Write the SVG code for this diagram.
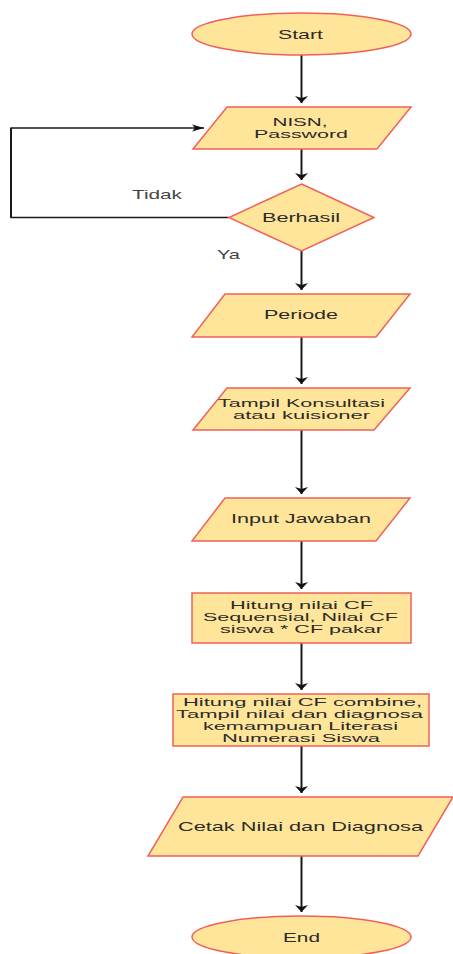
<svg xmlns="http://www.w3.org/2000/svg" width="453" height="954" viewBox="0 0 453 954">
<defs>
<style>
.shape{fill:#FFE599;stroke:#F0605A;stroke-width:1.5}
.t{font-family:"Liberation Sans",Arial,sans-serif;font-size:13px;fill:#2b2b2b;text-anchor:middle}
.m{font-size:10.5px}
.lbl{font-family:"Liberation Sans",Arial,sans-serif;font-size:13px;fill:#444;text-anchor:middle}
.v{fill:none;stroke:#1a1a1a;stroke-width:2}
.h{fill:none;stroke:#1a1a1a;stroke-width:1.4}
</style>
<marker id="down" markerUnits="userSpaceOnUse" markerWidth="14" markerHeight="9" viewBox="-7 -8 14 9" refX="0" refY="0" orient="0" overflow="visible">
<path d="M-6.5,-7 L0,0 L6.5,-7 L0,-5 z" fill="#111"/>
</marker>
<marker id="right" markerUnits="userSpaceOnUse" markerWidth="13" markerHeight="8" viewBox="-13 -4 13 8" refX="0" refY="0" orient="0" overflow="visible">
<path d="M-12,-3.5 L0,0 L-12,3.5 L-9,0 z" fill="#111"/>
</marker>
</defs>
<rect width="453" height="954" fill="#fff"/>

<g id="connectors">
<line class="v" x1="301.5" y1="55" x2="301.5" y2="103" marker-end="url(#down)"/>
<line class="v" x1="301.5" y1="149" x2="301.5" y2="180" marker-end="url(#down)"/>
<line class="v" x1="301.5" y1="251" x2="301.5" y2="290" marker-end="url(#down)"/>
<line class="v" x1="301.5" y1="337" x2="301.5" y2="384" marker-end="url(#down)"/>
<line class="v" x1="301.5" y1="430" x2="301.5" y2="494" marker-end="url(#down)"/>
<line class="v" x1="301.5" y1="541" x2="301.5" y2="589" marker-end="url(#down)"/>
<line class="v" x1="301.5" y1="643" x2="301.5" y2="690" marker-end="url(#down)"/>
<line class="v" x1="301.5" y1="746" x2="301.5" y2="793" marker-end="url(#down)"/>
<line class="v" x1="301.5" y1="856" x2="301.5" y2="912" marker-end="url(#down)"/>
<polyline class="h" points="229,217.5 11,217.5 11,128 204,128" marker-end="url(#right)"/>
<line class="h" x1="11" y1="217.5" x2="11" y2="128" style="stroke-width:2"/>
<text class="lbl" x="157" y="199" textLength="50" lengthAdjust="spacingAndGlyphs">Tidak</text>
<text class="lbl" x="228.5" y="259" textLength="23" lengthAdjust="spacingAndGlyphs">Ya</text>
</g>

<g id="start">
<ellipse class="shape" cx="301.5" cy="34" rx="109.5" ry="21"/>
<text class="t" x="300.5" y="38.5" textLength="45" lengthAdjust="spacingAndGlyphs">Start</text>
</g>

<g id="nisn">
<polygon class="shape" points="227,107 411,107 377,149 193,149"/>
<text class="t m" x="300" y="126" textLength="55" lengthAdjust="spacingAndGlyphs">NISN,</text>
<text class="t m" x="301" y="138" textLength="94" lengthAdjust="spacingAndGlyphs">Password</text>
</g>

<g id="berhasil">
<polygon class="shape" points="301.5,184 374,217.5 301.5,251 229,217.5"/>
<text class="t" x="301" y="221.5" textLength="78" lengthAdjust="spacingAndGlyphs">Berhasil</text>
</g>

<g id="periode">
<polygon class="shape" points="225,294 410,294 376,337 192,337"/>
<text class="t" x="301" y="318.5" textLength="74" lengthAdjust="spacingAndGlyphs">Periode</text>
</g>

<g id="tampil">
<polygon class="shape" points="227,388 410,388 374,430 193,430"/>
<text class="t m" x="301.5" y="406.5" textLength="167" lengthAdjust="spacingAndGlyphs">Tampil Konsultasi</text>
<text class="t m" x="301.5" y="418.5" textLength="137" lengthAdjust="spacingAndGlyphs">atau kuisioner</text>
</g>

<g id="input">
<polygon class="shape" points="225,498 410,498 376,541 192,541"/>
<text class="t" x="301" y="523" textLength="140" lengthAdjust="spacingAndGlyphs">Input Jawaban</text>
</g>

<g id="hitung1">
<rect class="shape" x="192" y="593" width="219" height="50"/>
<text class="t m" x="301.5" y="609" textLength="143" lengthAdjust="spacingAndGlyphs">Hitung nilai CF</text>
<text class="t m" x="300.5" y="621" textLength="195" lengthAdjust="spacingAndGlyphs">Sequensial, Nilai CF</text>
<text class="t m" x="301.5" y="633" textLength="163" lengthAdjust="spacingAndGlyphs">siswa * CF pakar</text>
</g>

<g id="hitung2">
<rect class="shape" x="173" y="694" width="256" height="52"/>
<text class="t m" x="302.5" y="706" textLength="239" lengthAdjust="spacingAndGlyphs">Hitung nilai CF combine,</text>
<text class="t m" x="299.5" y="718" textLength="247" lengthAdjust="spacingAndGlyphs">Tampil nilai dan diagnosa</text>
<text class="t m" x="300.5" y="730" textLength="195" lengthAdjust="spacingAndGlyphs">kemampuan Literasi</text>
<text class="t m" x="301" y="742" textLength="158" lengthAdjust="spacingAndGlyphs">Numerasi Siswa</text>
</g>

<g id="cetak">
<polygon class="shape" points="183,797 453,797 418,856 148,856"/>
<text class="t" x="300.5" y="830.5" textLength="245" lengthAdjust="spacingAndGlyphs">Cetak Nilai dan Diagnosa</text>
</g>

<g id="end">
<ellipse class="shape" cx="301.5" cy="937" rx="109.5" ry="21"/>
<text class="t" x="301.5" y="941.5" textLength="37" lengthAdjust="spacingAndGlyphs">End</text>
</g>
</svg>
